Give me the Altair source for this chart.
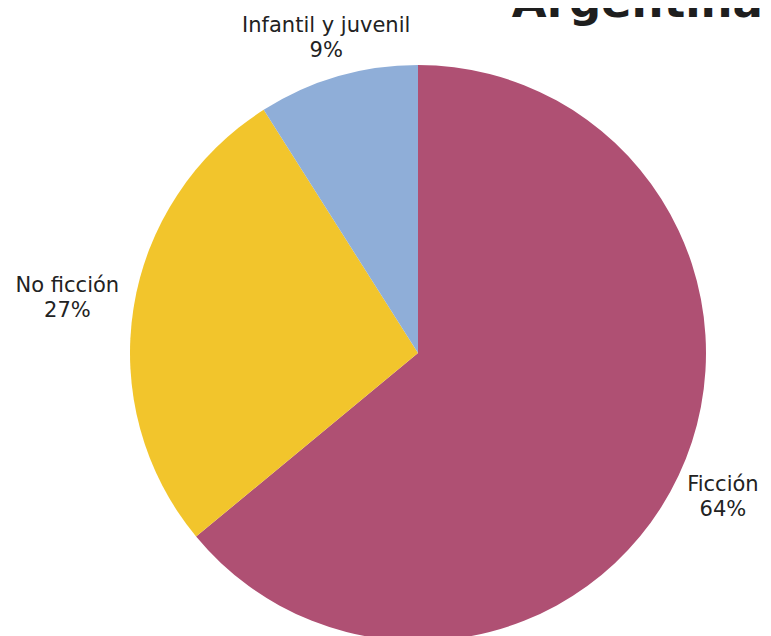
import altair as alt
import pandas as pd

categories = ["Ficción", "No ficción", "Infantil y juvenil"]
values = [64, 27, 9]
colors = ["#AF5073", "#F2C52C", "#8FAED8"]
title_text = "Argentina"

df = pd.DataFrame({
    "cat": categories,
    "val": values,
    "ord": list(range(len(categories))),
    "label": [f"{c}\n{v}%" for c, v in zip(categories, values)],
})
total = sum(values)

CX, CY, R = 410, 345, 288
theta_scale = alt.Scale(domain=[0, total])

pie = alt.Chart(df).mark_arc(outerRadius=R).encode(
    theta=alt.Theta("val:Q", stack=True, scale=theta_scale),
    order=alt.Order("ord:Q"),
    x=alt.value(CX), y=alt.value(CY),
    color=alt.Color("cat:N", scale=alt.Scale(domain=categories, range=colors), legend=None),
)

labels = alt.Chart(df).transform_window(
    cum="sum(val)", sort=[alt.SortField("ord")], frame=[None, 0]
).transform_calculate(
    mid="datum.cum - datum.val / 2",
    r="datum.cat == 'Ficción' ? 337 : (datum.cat == 'No ficción' ? 355 : 329)",
).mark_text(
    font="DejaVu Sans", fontSize=21, color="#222222",
    align="center", baseline="middle", lineBreak="\n", lineHeight=25, dy=-11,
).encode(
    theta=alt.Theta("mid:Q", stack=None, scale=theta_scale),
    radius=alt.Radius("r:Q", scale=None),
    x=alt.value(CX), y=alt.value(CY), text="label:N",
)

title = alt.Chart(pd.DataFrame({"t": [title_text]})).mark_text(
    font="DejaVu Sans", fontSize=45, fontWeight="bold", color="#1E1E1E",
    align="right", baseline="alphabetic",
).encode(x=alt.value(755), y=alt.value(9), text="t:N")

chart = (pie + labels + title).properties(
    width=755, height=628,
    autosize=alt.AutoSizeParams(type="none"),
    padding=0,
).configure_view(stroke=None)

chart.save("out.html", embed_options={"renderer": "svg", "actions": False})
